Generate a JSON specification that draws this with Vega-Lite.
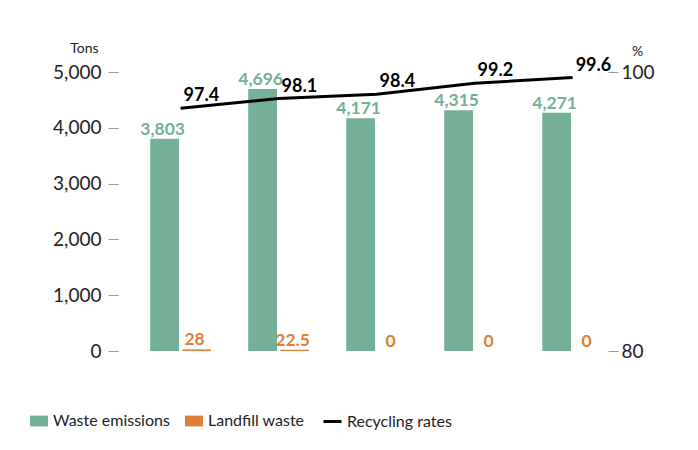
{
  "$schema": "https://vega.github.io/schema/vega-lite/v6.json",
  "width": 512,
  "height": 279,
  "autosize": {"type": "none"},
  "padding": {"left": 107, "top": 72, "right": 79, "bottom": 99},
  "background": "white",
  "config": {
    "view": {"stroke": null},
    "font": "Lato",
    "axis": {"grid": false, "labelColor": "#222", "titleColor": "#222", "labelFont": "Lato", "titleFont": "Lato"},
    "legend": {"labelFont": "Lato", "labelColor": "#222"}
  },
  "datasets": {
    "bars": [
      {"year": "2004", "series": "Waste emissions", "value": 3803},
      {"year": "2004", "series": "Landfill waste", "value": 28},
      {"year": "2005", "series": "Waste emissions", "value": 4696},
      {"year": "2005", "series": "Landfill waste", "value": 22.5},
      {"year": "2006", "series": "Waste emissions", "value": 4171},
      {"year": "2006", "series": "Landfill waste", "value": 0},
      {"year": "2007", "series": "Waste emissions", "value": 4315},
      {"year": "2007", "series": "Landfill waste", "value": 0},
      {"year": "2008 FY", "series": "Waste emissions", "value": 4271},
      {"year": "2008 FY", "series": "Landfill waste", "value": 0}
    ],
    "rates": [
      {"year": "2004", "series": "Recycling rates", "rate": 97.4},
      {"year": "2005", "series": "Recycling rates", "rate": 98.1},
      {"year": "2006", "series": "Recycling rates", "rate": 98.4},
      {"year": "2007", "series": "Recycling rates", "rate": 99.2},
      {"year": "2008 FY", "series": "Recycling rates", "rate": 99.6}
    ]
  },
  "layer": [
    {
      "data": {"name": "bars"},
      "encoding": {
        "x": {
          "field": "year", "type": "nominal", "sort": null,
          "scale": {"paddingInner": 0.38, "paddingOuter": 0.302, "align": 0.73},
          "axis": {"title": null, "labelAngle": 0, "ticks": false, "domainColor": "#aaaaaa", "domainWidth": 1.5, "labelFontSize": 19, "labelPadding": 8}
        },
        "xOffset": {
          "field": "series", "type": "nominal",
          "sort": ["Waste emissions", "Landfill waste"],
          "scale": {"paddingInner": 0.1}
        },
        "y": {
          "field": "value", "type": "quantitative",
          "scale": {"domain": [0, 5000]},
          "axis": {
            "orient": "left", "offset": -11, "tickSize": 10, "tickColor": "#999999", "domain": false,
            "values": [0, 1000, 2000, 3000, 4000, 5000], "format": ",.0f",
            "labelFontSize": 19, "labelPadding": 7,
            "title": "Tons", "titleAngle": 0, "titleFontSize": 14, "titleFontWeight": "normal",
            "titleAlign": "center", "titleBaseline": "middle", "titleX": -34, "titleY": -24
          }
        },
        "color": {
          "field": "series", "type": "nominal",
          "scale": {"domain": ["Waste emissions", "Landfill waste"], "range": ["#74B098", "#E07F3C"]},
          "legend": {
            "title": null, "orient": "none", "legendX": -77, "legendY": 340, "direction": "horizontal",
            "labelFontSize": 16, "labelOffset": 5, "columnPadding": 15, "padding": 0,
            "symbolType": "M-1,-0.6H1V0.6H-1Z", "symbolSize": 324, "symbolStrokeWidth": 0
          }
        }
      },
      "layer": [
        {"mark": {"type": "bar"}},
        {
          "mark": {"type": "text", "font": "Lato", "fontWeight": "bold", "fontSize": 17.5, "baseline": "alphabetic", "dy": -4, "dx": -2},
          "encoding": {
            "text": {"field": "value", "type": "quantitative", "format": ","}
          }
        }
      ]
    },
    {
      "data": {"name": "rates"},
      "encoding": {
        "x": {"field": "year", "type": "nominal", "sort": null, "axis": null},
        "y": {
          "field": "rate", "type": "quantitative",
          "scale": {"domain": [80, 100]},
          "axis": {
            "orient": "right", "offset": -11, "tickSize": 10, "tickColor": "#999999", "domain": false,
            "values": [80, 100], "labelFontSize": 19, "labelPadding": 3,
            "title": "%", "titleAngle": 0, "titleFontSize": 14, "titleFontWeight": "normal",
            "titleAlign": "center", "titleBaseline": "middle", "titleX": 29, "titleY": -21
          }
        }
      },
      "layer": [
        {
          "mark": {"type": "line", "strokeWidth": 3},
          "encoding": {
            "stroke": {
              "field": "series", "type": "nominal",
              "scale": {"range": ["#000000"]},
              "legend": {
                "title": null, "orient": "none", "legendX": 215, "legendY": 339, "direction": "horizontal",
                "labelFontSize": 16, "labelOffset": 4, "padding": 0,
                "symbolType": "stroke", "symbolSize": 324, "symbolStrokeWidth": 3
              }
            }
          }
        },
        {
          "mark": {"type": "text", "font": "Lato", "fontWeight": "bold", "fontSize": 18, "baseline": "middle", "align": "left", "dx": 3, "dy": -12, "color": "#000000"},
          "encoding": {
            "text": {"field": "rate", "type": "quantitative", "format": ".1f"}
          }
        }
      ]
    }
  ],
  "resolve": {"scale": {"y": "independent", "color": "independent"}}
}
